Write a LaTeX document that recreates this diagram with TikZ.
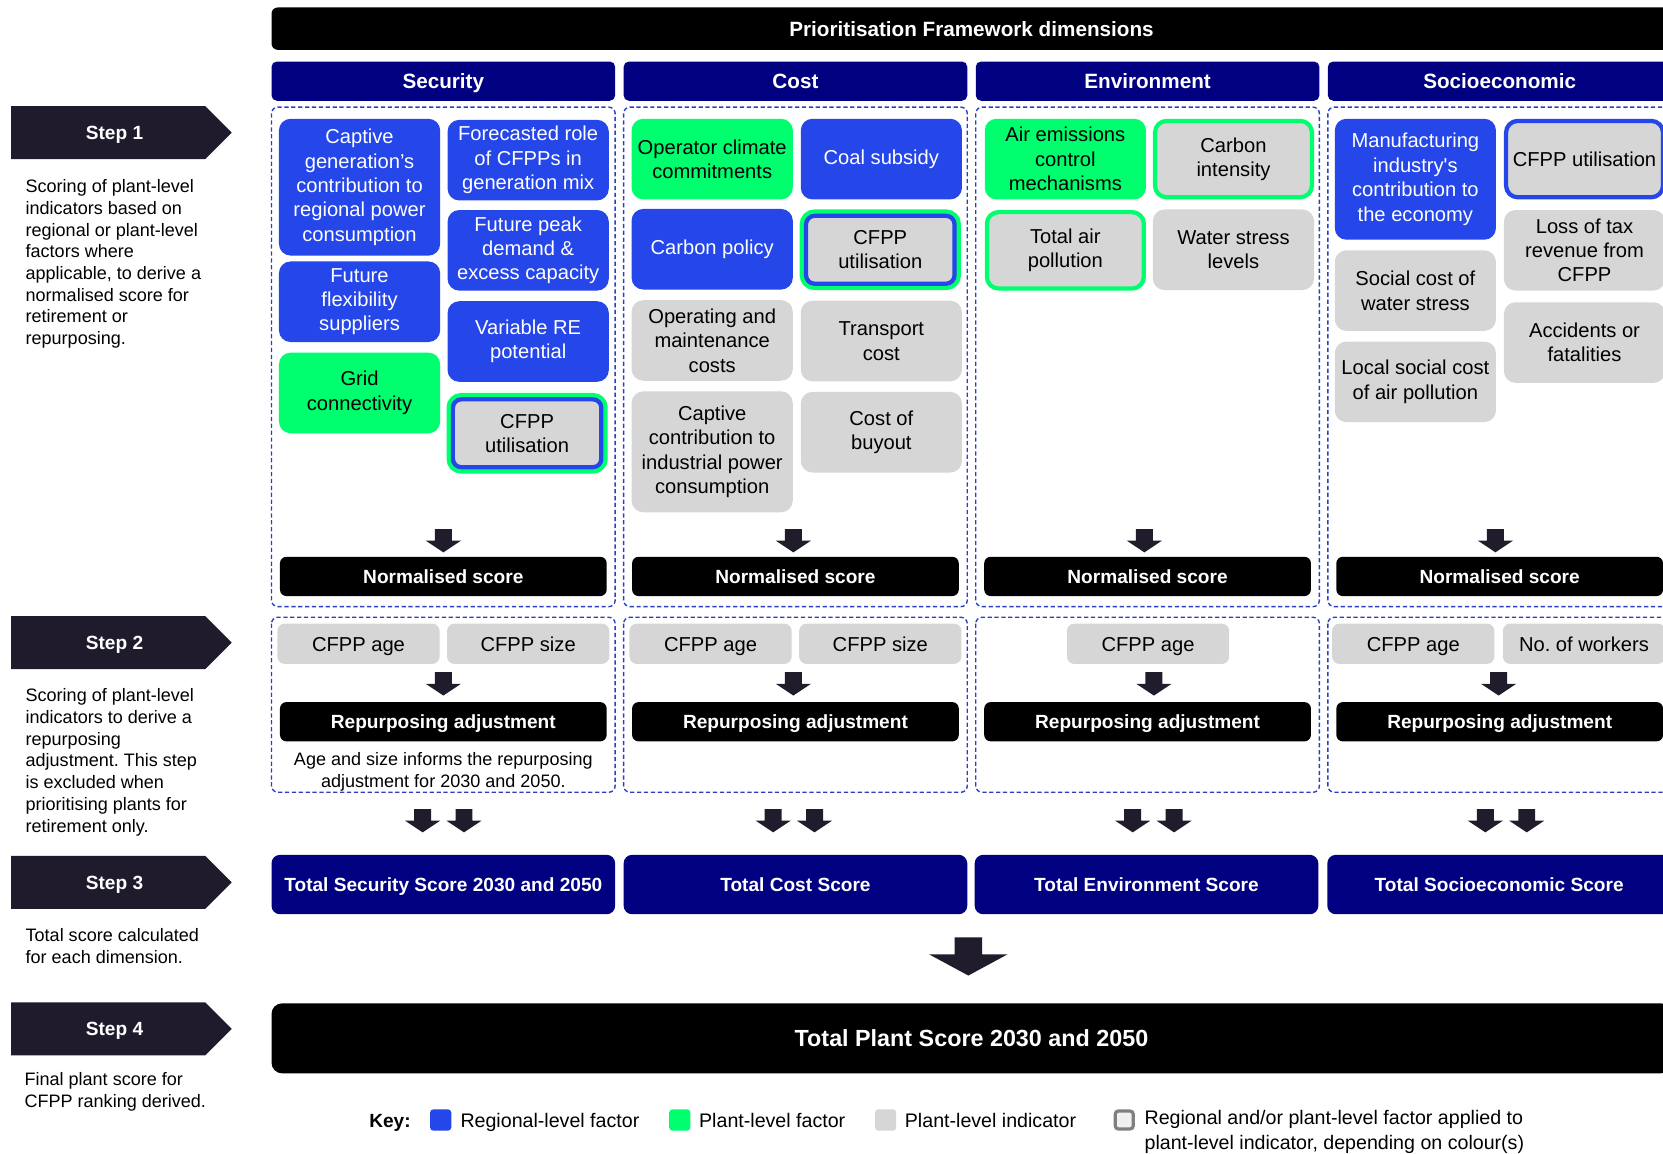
\documentclass[tikz,border=0pt]{standalone}
\usepackage{fontspec}
\setmainfont{Liberation Sans}
\usepackage{tikz}
\usetikzlibrary{calc,shapes.symbols}
\usepackage{xcolor}
\definecolor{RegionalBlue}{HTML}{2546E8}
\definecolor{PlantGreen}{HTML}{00FF6E}
\definecolor{IndicatorGray}{HTML}{D6D6D6}
\definecolor{DimNavy}{HTML}{000080}
\definecolor{StepDark}{HTML}{1F1B2D}
\definecolor{DashBlue}{HTML}{2B3FC4}
\definecolor{ArrowDark}{HTML}{201C2C}
\newcommand{\boxfont}{\fontsize{19}{23}\selectfont}
\newcommand{\descfont}{\fontsize{17}{20.5}\selectfont}
\newcommand{\labelfont}{\fontsize{18}{22}\selectfont\bfseries}
\newcommand{\headfont}{\fontsize{19.5}{23}\selectfont\bfseries}
\frenchspacing

\tikzset{
  factor/.style={rounded corners=11pt, minimum width=152pt, minimum height=76pt,
    inner sep=1pt, align=center, font=\boxfont},
  regional/.style={factor, fill=RegionalBlue, text=white},
  plant/.style={factor, fill=PlantGreen},
  indicator/.style={factor, fill=IndicatorGray},
  greenrim/.style={indicator, draw=PlantGreen, line width=4pt,
    minimum width=148pt, minimum height=72pt},
  bluerim/.style={indicator, draw=RegionalBlue, line width=4pt,
    minimum width=148pt, minimum height=72pt},
  doublerim/.style={indicator, draw=RegionalBlue, line width=4pt, rounded corners=8pt,
    minimum width=140pt, minimum height=64pt, preaction={draw=PlantGreen, line width=12pt}},
  dimhead/.style={fill=DimNavy, text=white, rounded corners=5pt, text height=14pt, text depth=0pt,
    minimum width=324pt, minimum height=37pt, font=\headfont},
  scorebox/.style={fill=black, text=white, rounded corners=6pt, text height=13pt, text depth=0pt,
    minimum width=308pt, minimum height=37pt, font=\labelfont},
  totalbox/.style={fill=DimNavy, text=white, rounded corners=8pt, text height=13pt, text depth=0pt,
    minimum width=324pt, minimum height=56pt, font=\labelfont},
  adjbox/.style={fill=IndicatorGray, rounded corners=7pt, text height=13.6pt, text depth=0pt,
    minimum width=153pt, minimum height=38pt, font=\boxfont},
  stepsign/.style={signal, signal to=east, fill=StepDark, text=white, text height=13pt, text depth=0pt,
    minimum width=208pt, minimum height=50pt, font=\fontsize{18}{22}\selectfont\bfseries},
  dashbox/.style={draw=DashBlue, line width=1.3pt, dash pattern=on 4pt off 2.5pt,
    rounded corners=6pt},
  desc/.style={anchor=north west, align=left, font=\descfont, inner sep=0pt},
  keysq/.style={rounded corners=3pt, minimum width=20pt, minimum height=20pt, inner sep=0pt},
  keytext/.style={anchor=west, inner sep=0pt, text height=13.3pt, text depth=0pt,
    font=\fontsize{18.5}{23}\selectfont},
  smalldown/.pic={\fill[ArrowDark] (-8,-22) -- (8,-22) -- (8,-11) -- (16.5,-11)
    -- (0,0) -- (-16.5,-11) -- (-8,-11) -- cycle;},
  bigdown/.pic={\fill[ArrowDark] (-13,-36) -- (13,-36) -- (13,-20) -- (37,-20)
    -- (0,0) -- (-37,-20) -- (-13,-20) -- cycle;}
}

\begin{document}
\begin{tikzpicture}[x=1pt, y=-1pt]
  \useasboundingbox (0,0) rectangle (1568,1088);

  \node[fill=black, text=white, rounded corners=6pt, minimum width=1320pt, text height=14pt,
    text depth=0pt, minimum height=40pt, font=\headfont] (frame) at (916,27) {Prioritisation Framework dimensions};

  \foreach \i/\dim/\cx/\ta/\tb in {1/Security/418/0/0, 2/Cost/750/-2/-2,
      3/Environment/1082/-3/6, 4/Socioeconomic/1414/-4/-1}{
    \draw[dashbox] (\cx-162,101) rectangle (\cx+162,572);
    \draw[dashbox] (\cx-162,582) rectangle (\cx+162,747);
    \node[dimhead] (head\i) at (\cx,76.5) {\dim};
    \node[scorebox] (norm\i) at (\cx,543.5) {Normalised score};
    \node[scorebox] (adj\i) at (\cx,680.5) {Repurposing adjustment};
    \pic at ($(norm\i.north)+(\ta,-4)$) {smalldown};
    \pic at ($(adj\i.north)+(\tb,-6)$) {smalldown};
  }

  % step 1: security
  \node[regional, minimum height=129pt] (seccaptive) at (339,176.5)
    {Captive\\generation’s\\contribution to\\regional power\\consumption};
  \node[regional] (secflex) at (339,284.5) {Future\\flexibility\\suppliers};
  \node[plant] (secgrid) at (339,370.5) {Grid\\connectivity};
  \node[regional] (secrole) at (498,151) {Forecasted role\\of CFPPs in\\generation mix};
  \node[regional] (secpeak) at (498,236) {Future peak\\demand \&\\excess capacity};
  \node[regional] (secvre) at (498,322) {Variable RE\\potential};
  \node[doublerim] (secutil) at (497,408.5) {CFPP\\utilisation};

  % step 1: cost
  \node[plant] (costclimate) at (671.5,150) {Operator climate\\commitments};
  \node[regional] (costpolicy) at (671.5,235) {Carbon policy};
  \node[indicator] (costom) at (671.5,321) {Operating and\\maintenance\\costs};
  \node[indicator, minimum height=114pt] (costcaptive) at (671.5,426)
    {Captive\\contribution to\\industrial power\\consumption};
  \node[regional] (costcoal) at (831,150) {Coal subsidy};
  \node[doublerim] (costutil) at (830,235.5) {CFPP\\utilisation};
  \node[indicator] (costtransport) at (831,321.5) {Transport\\cost};
  \node[indicator] (costbuyout) at (831,407.5) {Cost of\\buyout};

  % step 1: environment
  \node[plant] (envair) at (1004.5,150) {Air emissions\\control\\mechanisms};
  \node[greenrim] (envpollution) at (1004.5,236) {Total air\\pollution};
  \node[greenrim] (envcarbon) at (1163,150) {Carbon\\intensity};
  \node[indicator] (envwater) at (1163,235.5) {Water stress\\levels};

  % step 1: socioeconomic
  \node[regional, minimum height=114pt] (socmanuf) at (1334.5,169)
    {Manufacturing\\industry\textquotesingle s\\contribution to\\the economy};
  \node[indicator] (socwater) at (1334.5,274) {Social cost of\\water stress};
  \node[indicator] (socair) at (1334.5,360) {Local social cost\\of air pollution};
  \node[bluerim] (socutil) at (1494,150) {CFPP utilisation};
  \node[indicator] (soctax) at (1494,236) {Loss of tax\\revenue from\\CFPP};
  \node[indicator] (socaccidents) at (1494,323) {Accidents or\\fatalities};

  % step 2
  \node[adjbox] (secage) at (338,607) {CFPP age};
  \node[adjbox] (secsize) at (498,607) {CFPP size};
  \node[adjbox] (costage) at (670,607) {CFPP age};
  \node[adjbox] (costsize) at (830,607) {CFPP size};
  \node[adjbox] (envage) at (1082.5,607) {CFPP age};
  \node[adjbox] (socage) at (1332.5,607) {CFPP age};
  \node[adjbox] (socworkers) at (1493.5,607) {No. of workers};
  \node[font=\descfont, align=center, inner sep=0pt] (secnote) at (418,728)
    {Age and size informs the repurposing\\adjustment for 2030 and 2050.};

  % step 3 and 4
  \foreach \i/\txt/\cx/\tc in {1/Total Security Score 2030 and 2050/418/0,
      2/Total Cost Score/750/-1.5, 3/Total Environment Score/1081/6.5,
      4/Total Socioeconomic Score/1413.5/6.5}{
    \node[totalbox] (total\i) at (\cx,834) {\txt};
    \pic at ($(total\i.north)+(\tc-19.5,-21)$) {smalldown};
    \pic at ($(total\i.north)+(\tc+19.5,-21)$) {smalldown};
  }
  \node[fill=black, text=white, rounded corners=10pt, minimum width=1320pt, minimum height=66pt,
    text height=15.8pt, text depth=0pt, font=\fontsize{22}{26}\selectfont\bfseries] (plant)
    at (916,979) {Total Plant Score 2030 and 2050};
  \pic at ($(plant.north)+(-3,-26)$) {bigdown};

  % steps on the left
  \node[stepsign] (step1) at (102,125) {\hspace*{12pt}Step 1};
  \node[stepsign] (step2) at (102,606) {\hspace*{12pt}Step 2};
  \node[stepsign] (step3) at (102,832) {\hspace*{12pt}Step 3};
  \node[stepsign] (step4) at (102,970) {\hspace*{12pt}Step 4};
  \node[desc] (desc1) at (24,169) {Scoring of plant-level\\indicators based on\\regional or plant-level\\factors where\\applicable, to derive a\\normalised score for\\retirement or\\repurposing.};
  \node[desc] (desc2) at (24,649) {Scoring of plant-level\\indicators to derive a\\repurposing\\adjustment. This step\\is excluded when\\prioritising plants for\\retirement only.};
  \node[desc] (desc3) at (24,875) {Total score calculated\\for each dimension.};
  \node[desc] (desc4) at (23,1011) {Final plant score for\\CFPP ranking derived.};

  % key
  \node[keytext, font=\fontsize{18}{22}\selectfont\bfseries] (keylabel) at (348,1056) {Key:};
  \node[keysq, fill=RegionalBlue] (keyreg) at (415.5,1056) {};
  \node[keytext] (keyregtext) at (434,1056) {Regional-level factor};
  \node[keysq, fill=PlantGreen] (keyplant) at (641,1056) {};
  \node[keytext] (keyplanttext) at (659,1056) {Plant-level factor};
  \node[keysq, fill=IndicatorGray] (keyind) at (835,1056) {};
  \node[keytext] (keyindtext) at (853,1056) {Plant-level indicator};
  \node[keysq, fill=gray!12, draw=gray, line width=3pt, minimum width=17pt,
    minimum height=17pt] (keyboth) at (1060,1056) {};
  \node[anchor=north west, align=left, inner sep=0pt, font=\fontsize{18.5}{23}\selectfont]
    (keybothtext) at (1079,1047)
    {Regional and/or plant-level factor applied to\\plant-level indicator, depending on colour(s)};
\end{tikzpicture}
\end{document}
